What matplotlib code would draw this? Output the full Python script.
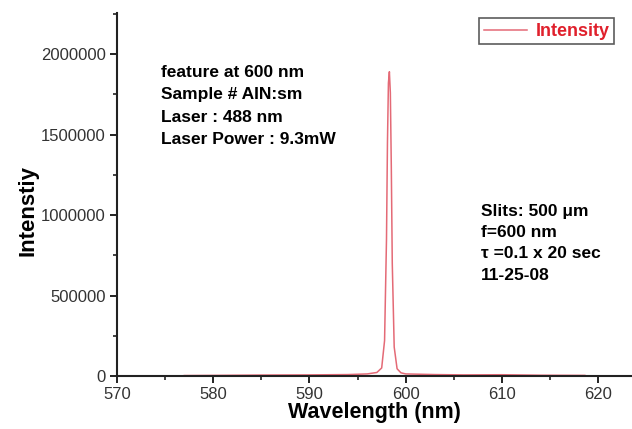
import matplotlib.pyplot as plt
from matplotlib.ticker import MultipleLocator, FormatStrFormatter

plt.rcParams['font.family'] = ['Liberation Sans', 'DejaVu Sans']

# spectrum
wavelength = [577.0, 580.0, 585.0, 590.0, 594.0, 596.0, 597.0, 597.5, 597.8,
              598.0, 598.1, 598.2, 598.3, 598.4, 598.5, 598.6, 598.8, 599.1,
              599.5, 600.0, 603.0, 606.0, 610.0, 614.0, 618.6]
intensity = [3000, 4000, 6000, 7000, 9000, 13000, 22000, 50000, 220000,
             850000, 1450000, 1820000, 1890000, 1760000, 1300000, 700000,
             180000, 45000, 20000, 13000, 9000, 7000, 8000, 5000, 4000]

notes_left = ['feature at 600 nm', 'Sample # AIN:sm', 'Laser : 488 nm',
              'Laser Power : 9.3mW']
notes_right = ['Slits: 500 \u03bcm', 'f=600 nm', '\u03c4 =0.1 x 20 sec',
               '11-25-08']

fig = plt.figure(figsize=(6.32, 4.29), dpi=100)
ax = fig.add_axes([0.185, 0.1235, 0.815, 0.8462])

ax.plot(wavelength, intensity, color='#e46a76', lw=1.1, label='Intensity')

ax.set_xlim(570, 623.5)
ax.set_ylim(0, 2255000)
ax.xaxis.set_major_locator(MultipleLocator(10))
ax.xaxis.set_minor_locator(MultipleLocator(5))
ax.yaxis.set_major_locator(MultipleLocator(500000))
ax.yaxis.set_minor_locator(MultipleLocator(250000))
ax.yaxis.set_major_formatter(FormatStrFormatter('%d'))

for s in ['top', 'right']:
    ax.spines[s].set_visible(False)
for s in ['left', 'bottom']:
    ax.spines[s].set_linewidth(1.5)
    ax.spines[s].set_color('#222222')

ax.tick_params(which='major', direction='out', length=5, width=1.4,
               labelsize=12, colors='#222222', pad=3)
ax.tick_params(which='minor', direction='out', length=3, width=1.2,
               colors='#222222')
ax.tick_params(axis='both', labelcolor='#333333')

ax.set_xlabel('Wavelength (nm)', fontsize=15.5, fontweight='bold', labelpad=0)
ax.set_ylabel('Intenstiy', fontsize=16, fontweight='bold')
ax.yaxis.set_label_coords(-0.152, 0.455)

# text blocks placed in pixels from the top-left corner
ax.text(161, 429 - 65, '\n'.join(notes_left), transform=None, fontsize=12.5,
        fontweight='bold', va='top', linespacing=1.62)
ax.text(481, 429 - 204, '\n'.join(notes_right), transform=None, fontsize=12.5,
        fontweight='bold', va='top', linespacing=1.52)

leg = ax.legend(loc='upper right', bbox_to_anchor=(0.966, 0.985),
                frameon=True, fancybox=False,
                handlelength=2.4, borderpad=0.25, handletextpad=0.5,
                borderaxespad=0.0,
                prop={'weight': 'bold', 'size': 13})
leg.get_frame().set_edgecolor('#333333')
leg.get_frame().set_linewidth(1.2)
for t in leg.get_texts():
    t.set_color('#e0202c')

fig.savefig('out.png', dpi=100)
